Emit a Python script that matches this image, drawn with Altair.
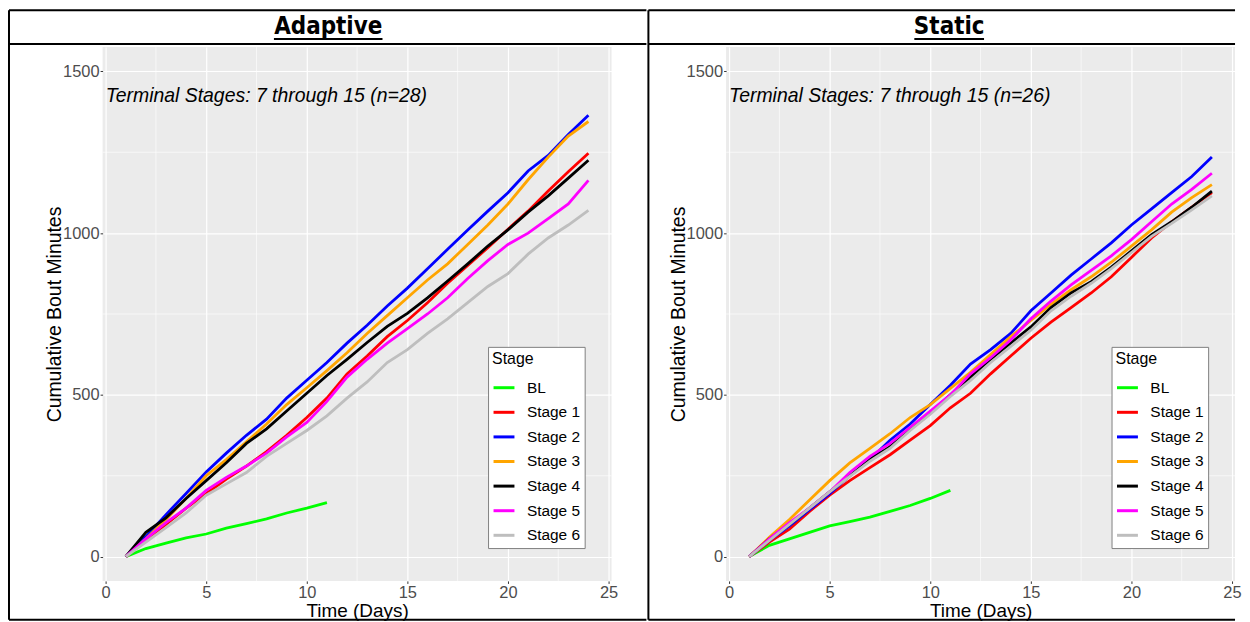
import altair as alt
import pandas as pd

# ---------------- data ----------------
stages = ["BL", "Stage 1", "Stage 2", "Stage 3", "Stage 4", "Stage 5", "Stage 6"]
stage_colors = ["#00FF00", "#FF0000", "#0000FF", "#FFA500", "#000000", "#FF00FF", "#BEBEBE"]

days = list(range(1, 25))
bl_days = list(range(1, 12))

# Adaptive panel
ad_bl = [0, 25, 42, 58, 70, 88, 102, 117, 135, 150, 167]
ad_s1 = [0, 50, 100, 150, 195, 240, 280, 325, 375, 430, 490, 565, 620, 680, 730, 785, 845, 900, 955, 1012, 1068, 1130, 1190, 1247]
ad_s2 = [0, 62, 130, 195, 262, 320, 375, 425, 490, 545, 600, 660, 715, 775, 830, 890, 950, 1010, 1068, 1125, 1192, 1240, 1305, 1364]
ad_s3 = [0, 55, 115, 180, 250, 300, 355, 410, 470, 522, 575, 630, 690, 745, 800, 855, 905, 965, 1025, 1090, 1165, 1235, 1300, 1345]
ad_s4 = [0, 75, 120, 180, 235, 290, 350, 395, 450, 505, 560, 610, 662, 712, 752, 800, 852, 905, 960, 1010, 1065, 1115, 1170, 1225]
ad_s5 = [0, 55, 105, 150, 205, 245, 280, 320, 370, 415, 480, 555, 610, 660, 705, 750, 800, 860, 915, 965, 1000, 1045, 1090, 1163]
ad_s6 = [0, 45, 90, 135, 190, 225, 260, 310, 350, 390, 435, 490, 540, 600, 640, 690, 735, 785, 835, 875, 935, 985, 1025, 1070]

# Static panel
st_bl = [0, 35, 55, 75, 95, 108, 122, 140, 158, 180, 205]
st_s1 = [0, 45, 85, 140, 190, 235, 275, 315, 360, 405, 460, 505, 565, 620, 675, 725, 770, 815, 865, 925, 985, 1035, 1080, 1125]
st_s2 = [0, 50, 95, 145, 195, 250, 300, 360, 410, 470, 530, 595, 640, 690, 760, 815, 870, 920, 970, 1025, 1075, 1125, 1175, 1235]
st_s3 = [0, 60, 115, 175, 235, 290, 335, 380, 430, 470, 520, 570, 625, 680, 730, 780, 825, 865, 910, 960, 1010, 1065, 1110, 1150]
st_s4 = [0, 55, 100, 150, 200, 250, 300, 340, 395, 445, 500, 555, 610, 660, 710, 770, 815, 850, 895, 945, 995, 1035, 1080, 1130]
st_s5 = [0, 55, 105, 150, 200, 260, 310, 350, 400, 450, 500, 565, 615, 670, 735, 790, 840, 885, 930, 980, 1035, 1090, 1135, 1185]
st_s6 = [0, 50, 100, 150, 200, 248, 295, 335, 390, 440, 495, 545, 600, 650, 700, 760, 805, 845, 890, 940, 990, 1030, 1072, 1115]

panel_titles = ["Adaptive", "Static"]
annot_texts = ["Terminal Stages: 7 through 15 (n=28)", "Terminal Stages: 7 through 15 (n=26)"]
annot_x = [0]
annot_y = [1425]

x_major = [0, 5, 10, 15, 20, 25]
y_major = [0, 500, 1000, 1500]
x_minor = [2.5, 7.5, 12.5, 17.5, 22.5]
y_minor = [250, 750, 1250]


def long_df(bl, series):
    rows = []
    for d, v in zip(bl_days, bl):
        rows.append({"Day": d, "Minutes": v, "Stage": "BL"})
    for name, vals in zip(stages[1:], series):
        for d, v in zip(days, vals):
            rows.append({"Day": d, "Minutes": v, "Stage": name})
    return pd.DataFrame(rows)


df_ad = long_df(ad_bl, [ad_s1, ad_s2, ad_s3, ad_s4, ad_s5, ad_s6])
df_st = long_df(st_bl, [st_s1, st_s2, st_s3, st_s4, st_s5, st_s6])

# ---------------- styling ----------------
W, H = 511, 536
FONT = "Liberation Sans"

xscale = alt.Scale(domain=[-0.15, 25.15], nice=False, zero=False)
yscale = alt.Scale(domain=[-75, 1575], nice=False, zero=False)

xaxis = alt.Axis(values=x_major, format="d", grid=True, gridColor="white", gridWidth=1.2,
                 domain=False, ticks=True, tickColor="#333333", tickSize=2.5, tickWidth=1,
                 labelColor="#4D4D4D", labelFont=FONT, labelFontSize=16.5, labelPadding=1,
                 labelFlush=False,
                 title="Time (Days)", titleFont=FONT, titleFontSize=19,
                 titleFontWeight="normal", titleColor="black",
                 titleX=W / 2, titleY=30, titleBaseline="middle", titleAlign="center")
yaxis = alt.Axis(values=y_major, format="d", grid=True, gridColor="white", gridWidth=1.2,
                 domain=False, ticks=True, tickColor="#333333", tickSize=2.5, tickWidth=1,
                 labelColor="#4D4D4D", labelFont=FONT, labelFontSize=16.5, labelPadding=1,
                 labelFlush=False,
                 title="Cumulative Bout Minutes", titleFont=FONT, titleFontSize=19.5,
                 titleFontWeight="normal", titleColor="black",
                 titleX=-48, titleY=H / 2, titleAngle=270, titleBaseline="middle",
                 titleAlign="center")


def hrule(x1, x2, y, w=2):
    return alt.Chart(alt.Data(values=[{"k": 1}])).mark_rule(color="black", strokeWidth=w).encode(
        x=alt.value(x1), x2=alt.value(x2), y=alt.value(y))


def vrule(x, y1, y2, w=2):
    return alt.Chart(alt.Data(values=[{"k": 1}])).mark_rule(color="black", strokeWidth=w).encode(
        x=alt.value(x), y=alt.value(y1), y2=alt.value(y2))


def panel(df, title, annot, left, right, title_x, ul_x1, ul_x2, divider):
    minor_x = alt.Chart(pd.DataFrame({"Day": x_minor})).mark_rule(
        color="white", strokeWidth=0.6).encode(
        x=alt.X("Day:Q", scale=xscale, axis=xaxis))
    minor_y = alt.Chart(pd.DataFrame({"Minutes": y_minor})).mark_rule(
        color="white", strokeWidth=0.6).encode(
        y=alt.Y("Minutes:Q", scale=yscale, axis=yaxis))
    lines = alt.Chart(df).mark_line(strokeWidth=2.8).encode(
        x=alt.X("Day:Q", scale=xscale, axis=xaxis),
        y=alt.Y("Minutes:Q", scale=yscale, axis=yaxis),
        color=alt.Color("Stage:N", scale=alt.Scale(domain=stages, range=stage_colors),
                        legend=alt.Legend(orient="none", legendX=387, legendY=301,
                                          title="Stage", titleFont=FONT, titleFontSize=16,
                                          titleFontWeight="normal", titleColor="black",
                                          titlePadding=9,
                                          labelFont=FONT, labelFontSize=15.5, labelColor="black",
                                          labelOffset=11,
                                          symbolType="stroke", symbolStrokeWidth=3,
                                          symbolSize=441, rowPadding=3.7,
                                          fillColor="white", strokeColor="#7F7F7F",
                                          padding=4)),
        order=alt.Order("Day:Q"),
    )
    text = alt.Chart(pd.DataFrame({"x": annot_x, "y": annot_y, "t": [annot]})).mark_text(
        font=FONT, fontSize=19.5, fontStyle="italic", align="left", baseline="middle",
        color="black").encode(
        x=alt.X("x:Q", scale=xscale, axis=xaxis),
        y=alt.Y("y:Q", scale=yscale, axis=yaxis),
        text="t:N")
    head = alt.Chart(alt.Data(values=[{"k": 1}])).mark_text(
        text=title, font="DejaVu Sans Condensed", fontSize=24, fontWeight="bold",
        align="center", baseline="middle", color="black").encode(
        x=alt.value(title_x), y=alt.value(-20))
    deco = [
        hrule(left, right, -37),          # top border
        hrule(left, right, -3),           # header separator
        hrule(left, right, 575),          # bottom border
        vrule(divider, -37, 575),         # vertical border
        hrule(ul_x1, ul_x2, -8, 2),       # underline
    ]
    return alt.layer(minor_x, minor_y, lines, text, head, *deco).properties(width=W, height=H)


left_panel = panel(df_ad, panel_titles[0], annot_texts[0], -94, 546, 226.5, 172, 281, -94)
right_panel = panel(df_st, panel_titles[1], annot_texts[1], -78, 511, 224, 189, 259, -78)

chart = alt.hconcat(left_panel, right_panel, spacing=0).resolve_scale(
    x="independent", y="independent", color="independent").resolve_legend(
    color="independent").properties(padding=0, background="white").configure_view(
    fill="#EBEBEB", stroke=None)

chart.save("out.html", embed_options={"renderer": "svg", "actions": False})
